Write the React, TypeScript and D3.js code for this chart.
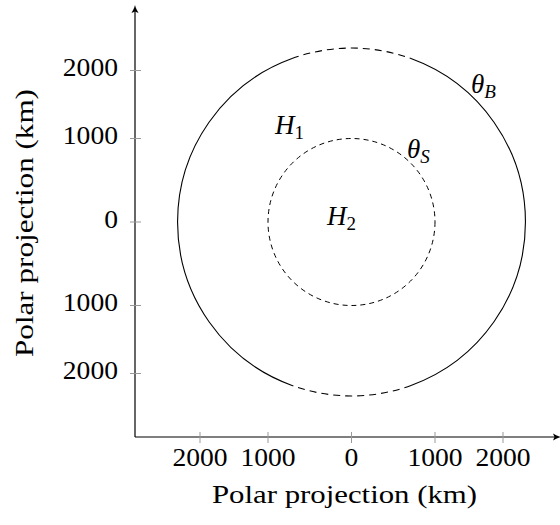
import React from "react";
import * as d3 from "d3";

// tick values (km) along both axes; labels are shown without sign
const tickValues = [-2000, -1000, 0, 1000, 2000];
// pixel offsets of those ticks from the pole (projection is not linear)
const tickOffsets = [-151.5, -83.5, 0, 83.5, 151.5];

// circles: radius in km
const boundaryRadius = 2330; // theta_B
const stormRadius = 1000; // theta_S

// outer circle pieces, angle in degrees from top, clockwise
const boundaryArcs = [
  {from: -20, to: 20, dashed: true},
  {from: 20, to: 160, dashed: false},
  {from: 160, to: 200, dashed: true},
  {from: 200, to: 340, dashed: false},
];

const W = 560, H = 525;
const cx = 351.5, cy = 222;
const axisX = 135, axisY = 437;
const FONT = "'Liberation Serif', 'DejaVu Serif', serif";

export default function App() {
  const x = d3.scaleLinear().domain(tickValues).range(tickOffsets.map(o => cx + o));
  const y = d3.scaleLinear().domain(tickValues).range(tickOffsets.map(o => cy - o));

  const rB = x(boundaryRadius) - x(0);
  const rS = x(stormRadius) - x(0);

  const arcPath = (r: number, a0: number, a1: number) => {
    const p = d3.path();
    const t0 = (a0 - 90) * Math.PI / 180, t1 = (a1 - 90) * Math.PI / 180;
    p.moveTo(x(0) + r * Math.cos(t0), y(0) + r * Math.sin(t0));
    p.arc(x(0), y(0), r, t0, t1);
    return p.toString();
  };

  const fmt = (d: number) => String(Math.abs(d));
  const lenOf = (s: string) => s.length * 13.8;

  return (
    <svg width={W} height={H} style={{position: "absolute", left: 0, top: 0, background: "#fff"}}
         fontFamily={FONT}>
      {/* axes */}
      <line x1={axisX} y1={axisY} x2={axisX} y2={10} stroke="#000" strokeWidth={1.2}/>
      <path d={`M${axisX},5 C${axisX + 0.6},8 ${axisX + 2.5},11 ${axisX + 3.5},13 L${axisX},11.5 L${axisX - 3.5},13 C${axisX - 2.5},11 ${axisX - 0.6},8 ${axisX},5Z`} fill="#000"/>
      <line x1={axisX} y1={axisY} x2={W - 4} y2={axisY} stroke="#000" strokeWidth={1.2}/>
      <path d={`M${W + 1},${axisY} C${W - 2},${axisY + 0.6} ${W - 5},${axisY + 2.5} ${W - 7},${axisY + 3.5} L${W - 5.5},${axisY} L${W - 7},${axisY - 3.5} C${W - 5},${axisY - 2.5} ${W - 2},${axisY - 0.6} ${W + 1},${axisY}Z`} fill="#000"/>

      {/* ticks */}
      {tickValues.map(v => (
        <g key={"y" + v}>
          <line x1={axisX - 5} x2={axisX + 6} y1={y(v)} y2={y(v)} stroke="#999" strokeWidth={1}/>
          <text x={118} y={y(v) + 5.5} textAnchor="end" fontSize={25}
                textLength={lenOf(fmt(v))} lengthAdjust="spacingAndGlyphs">{fmt(v)}</text>
        </g>
      ))}
      {tickValues.map(v => (
        <g key={"x" + v}>
          <line x1={x(v)} x2={x(v)} y1={axisY - 5} y2={axisY + 6} stroke="#999" strokeWidth={1}/>
          <text x={x(v)} y={466} textAnchor="middle" fontSize={25}
                textLength={lenOf(fmt(v))} lengthAdjust="spacingAndGlyphs">{fmt(v)}</text>
        </g>
      ))}

      {/* axis titles */}
      <text x={344.5} y={503} textAnchor="middle" fontSize={25}
            textLength={265} lengthAdjust="spacingAndGlyphs">Polar projection (km)</text>
      <text transform={`translate(33,223) rotate(-90)`} textAnchor="middle" fontSize={25}
            textLength={268} lengthAdjust="spacingAndGlyphs">Polar projection (km)</text>

      {/* outer boundary */}
      {boundaryArcs.map((a, i) => (
        <path key={i} d={arcPath(rB, a.from, a.to)} fill="none" stroke="#000" strokeWidth={1.1}
              strokeDasharray={a.dashed ? "7,5" : undefined}/>
      ))}
      {/* inner circle */}
      <circle cx={x(0)} cy={y(0)} r={rS} fill="none" stroke="#000" strokeWidth={1} strokeDasharray="5,4"/>

      {/* labels */}
      <text x={471} y={93} fontSize={27} fontStyle="italic">θ<tspan fontSize={19} dy={5}>B</tspan></text>
      <text x={407} y={158} fontSize={27} fontStyle="italic">θ<tspan fontSize={19} dy={5}>S</tspan></text>
      <text x={275} y={134} fontSize={27} fontStyle="italic">H<tspan fontSize={19} dy={5} fontStyle="normal">1</tspan></text>
      <text x={327} y={225} fontSize={27} fontStyle="italic">H<tspan fontSize={19} dy={5} fontStyle="normal">2</tspan></text>
    </svg>
  );
}
